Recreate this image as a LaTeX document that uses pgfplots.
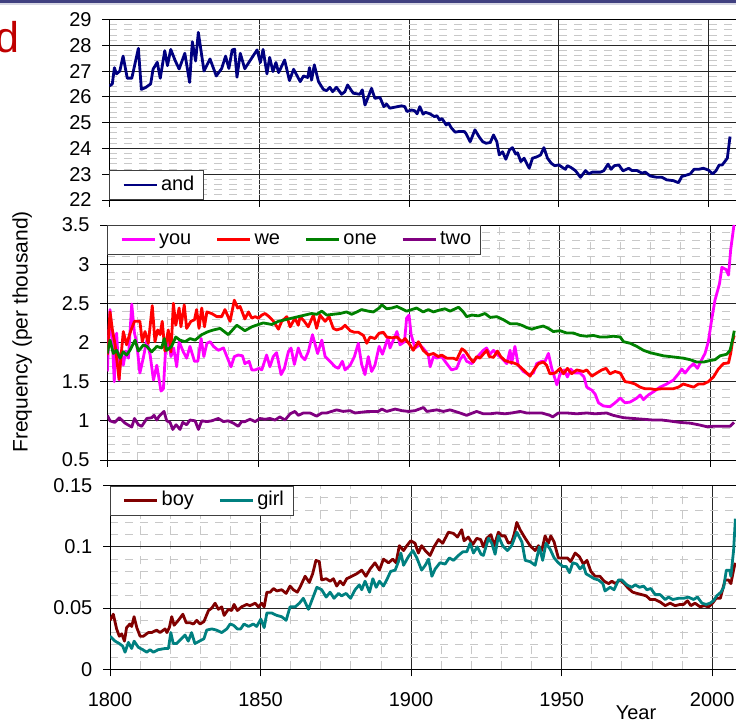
\documentclass[border=0pt]{standalone}
\usepackage{fontspec}
\setmainfont{Liberation Sans}
\usepackage{pgfplots}
\usepackage{pgfplotstable}
\pgfplotsset{compat=1.18}

\definecolor{andblue}{RGB}{0,0,128}
\definecolor{youmag}{RGB}{255,0,255}
\definecolor{wered}{RGB}{255,0,0}
\definecolor{onegreen}{RGB}{0,128,0}
\definecolor{twopurple}{RGB}{128,0,128}
\definecolor{boyred}{RGB}{128,0,0}
\definecolor{girlteal}{RGB}{0,128,128}
\definecolor{minorgray}{RGB}{200,200,200}
\definecolor{bandblue}{RGB}{64,64,128}
\definecolor{bandlight}{RGB}{215,215,228}
\definecolor{titlered}{RGB}{192,0,0}

% ---------- word frequencies (per thousand words) ----------
\pgfplotstableread{
x y
1800 26.42
1801 26.5
1801.7 27.13
1802.4 26.89
1803.5 27.0
1804.6 27.58
1806 26.72
1807.5 26.72
1809.7 27.88
1810.7 26.29
1812.1 26.36
1813.8 26.5
1814.6 27.07
1816 27.34
1817 26.72
1818.5 27.79
1819.4 27.21
1820.5 27.84
1822 27.4
1823.3 27.08
1825.2 27.69
1826.8 26.56
1827.7 28.14
1828.8 27.39
1829.7 28.5
1831.6 27.0
1833.6 27.47
1835.7 26.81
1837.5 27.1
1838.8 27.58
1839.9 27.1
1841 27.82
1841.8 27.85
1842.6 26.76
1843.7 27.69
1845.2 27.09
1847.1 27.43
1849.3 27.82
1850.4 27.33
1851.3 27.84
1852.6 26.89
1853.5 27.53
1854.6 26.98
1855.6 27.33
1856.5 26.94
1858.5 27.43
1860.1 26.63
1861.5 27.07
1863.7 26.59
1864.8 26.81
1866.2 26.75
1866.8 27.13
1867.5 26.65
1868.4 27.24
1869.8 26.59
1871.4 26.29
1872.5 26.24
1873.6 26.37
1874.5 26.2
1875.8 26.37
1877.5 26.1
1878.6 26.2
1879.5 26.46
1881.4 26.14
1883.6 26.1
1884.4 26.27
1885.3 25.68
1886.4 26.0
1887.5 26.33
1888.6 25.94
1890.3 25.98
1891.6 25.62
1892.5 25.72
1893.6 25.56
1895.3 25.6
1897.5 25.65
1898.6 25.62
1899.3 25.43
1900.8 25.49
1901.9 25.46
1902.7 25.34
1903.6 25.62
1904.7 25.33
1905.5 25.4
1907 25.34
1908.5 25.23
1909.3 25.27
1910.2 25.10
1911 25.16
1912.4 24.91
1913.2 24.98
1914.1 24.80
1915.4 24.63
1916.8 24.66
1918.5 24.65
1919 24.58
1920.4 24.26
1922 24.72
1923.5 24.43
1924.6 24.26
1925.7 24.2
1927.1 24.23
1928.2 24.52
1929.3 24.26
1930.1 23.75
1931.2 23.87
1932.3 23.58
1933.5 23.94
1934.5 24.03
1935.6 23.78
1936.2 23.83
1937.3 23.49
1938.4 23.62
1940.1 23.23
1941.2 23.62
1942.8 23.68
1943.9 23.75
1945 24.03
1946.2 23.62
1947.5 23.42
1948.6 23.33
1950 23.36
1951.1 23.27
1952.2 23.19
1952.8 23.33
1953.9 23.27
1955.5 23.14
1957.2 22.88
1958.9 23.14
1960 23.01
1961.1 23.08
1963.9 23.08
1965 23.14
1966.4 23.39
1967.4 23.19
1968.5 23.33
1970 23.36
1971.4 23.13
1973.3 23.23
1974.4 23.14
1976.1 23.14
1977.7 23.04
1978.8 23.08
1980.5 22.93
1982.7 22.88
1984.4 22.88
1986 22.78
1988.2 22.75
1989.9 22.67
1991 22.91
1992.7 22.97
1993.8 23.01
1995.1 23.19
1996.6 23.19
1998.2 23.23
1999.9 23.16
2001.3 23.01
2002.4 23.13
2003.5 23.36
2004.5 23.36
2006.2 23.62
2007.1 24.46
}\tAnd

\pgfplotstableread{
x y
1800 1.63
1800.9 2.42
1801.7 2.01
1802.3 1.50
1803.1 2.12
1803.9 1.52
1804.5 1.87
1805.3 1.71
1806.1 1.89
1807.0 1.80
1808.1 2.49
1809.0 2.12
1809.7 2.01
1810.8 1.61
1811.9 1.80
1813.1 2.03
1814.2 1.84
1815.3 1.52
1816.4 1.71
1817.8 1.38
1818.6 1.41
1819.3 1.90
1820.2 2.07
1821.1 1.82
1822.0 1.93
1823.0 1.69
1823.8 2.01
1825.2 1.88
1826.3 1.80
1827.4 1.95
1828.9 1.76
1830.0 1.76
1831.1 2.05
1832.0 1.82
1833.0 1.99
1834.1 2.01
1835.2 1.95
1836.8 1.90
1838.5 1.93
1841.0 1.69
1842.1 1.82
1843.4 1.84
1844.8 1.83
1845.6 1.73
1847.0 1.76
1847.9 1.65
1849.0 1.65
1850.3 1.67
1851.2 1.65
1852.8 1.84
1853.9 1.69
1855.0 1.82
1856.1 1.87
1857.6 1.59
1858.7 1.67
1860.0 1.88
1860.9 1.93
1862.0 1.72
1863.3 1.93
1864.4 1.82
1865.5 1.78
1866.6 1.88
1868.0 2.10
1869.7 1.86
1871.1 2.03
1872.2 1.82
1873.8 1.76
1875.5 1.69
1876.6 1.67
1877.9 1.76
1878.8 1.65
1880.5 1.71
1881.9 1.82
1883.2 1.99
1884.3 1.72
1885.4 1.59
1886.5 1.82
1887.6 1.63
1888.7 1.71
1890.1 1.95
1891.2 1.85
1893.0 2.06
1893.7 1.93
1894.8 2.03
1896.0 2.14
1897.0 1.97
1898.5 2.01
1899.2 2.31
1900.0 2.35
1900.7 2.10
1902.0 1.93
1903.6 1.97
1905.3 1.90
1906.4 1.84
1907.0 1.69
1908.1 1.82
1909.2 1.80
1910.8 1.82
1912.5 1.73
1914.1 1.65
1915.8 1.67
1916.9 1.78
1918.0 1.84
1919.1 1.76
1920.8 1.73
1921.9 1.78
1923.2 1.84
1924.6 1.90
1925.7 1.93
1926.8 1.85
1928.0 1.90
1929.4 1.84
1930.7 1.80
1932.4 1.73
1933.5 1.90
1934.0 1.73
1935.1 1.95
1936.2 1.71
1937.9 1.63
1939.6 1.59
1941.2 1.61
1942.3 1.73
1944.0 1.76
1945.1 1.76
1946.2 1.86
1947.3 1.67
1949.0 1.46
1950.0 1.59
1951.4 1.65
1952.5 1.56
1953.6 1.66
1955.0 1.61
1956.7 1.61
1958.0 1.56
1958.9 1.43
1960.6 1.39
1961.7 1.34
1962.8 1.23
1964.4 1.19
1966.6 1.18
1968.3 1.23
1970.0 1.29
1971.6 1.23
1973.3 1.24
1975.5 1.29
1976.6 1.33
1977.7 1.27
1979.3 1.33
1981.0 1.37
1983.2 1.43
1985.4 1.47
1987.6 1.52
1989.3 1.60
1990.4 1.66
1991.5 1.61
1992.9 1.68
1994.3 1.73
1995.6 1.67
1997.0 1.78
1998.1 1.86
1999.2 2.01
2000.3 2.29
2001.4 2.54
2002.9 2.75
2003.7 2.96
2005.1 2.93
2005.9 2.86
2006.6 3.18
2007.7 3.50
}\tYou

\pgfplotstableread{
x y
1800 1.84
1800.9 2.39
1801.7 2.16
1802.6 1.97
1803.9 1.53
1804.5 1.80
1805.3 2.14
1806.4 1.97
1807.5 2.12
1809.0 2.27
1810.8 2.27
1811.6 2.01
1812.5 2.14
1813.6 1.99
1814.9 2.47
1815.8 2.01
1816.7 2.16
1817.5 2.10
1818.2 2.27
1819.1 1.89
1820.2 2.16
1821.1 1.88
1821.9 2.50
1822.7 2.22
1823.8 2.44
1824.4 2.20
1825.5 2.48
1826.3 2.18
1827.7 2.27
1828.9 2.29
1829.6 2.42
1830.4 2.18
1831.3 2.44
1832.2 2.20
1833.0 2.39
1834.6 2.37
1836.3 2.33
1837.9 2.33
1839.0 2.42
1840.7 2.27
1842.1 2.54
1843.2 2.44
1844.0 2.46
1845.6 2.30
1846.8 2.39
1847.9 2.31
1849.0 2.33
1850.1 2.31
1851.2 2.35
1852.3 2.37
1853.6 2.33
1855.1 2.27
1856.7 2.17
1857.8 2.27
1859.5 2.33
1860.6 2.20
1862.2 2.31
1863.3 2.22
1863.9 2.33
1865.3 2.27
1866.6 2.20
1868.3 2.35
1869.4 2.18
1870.5 2.35
1872.2 2.27
1873.5 2.33
1874.9 2.18
1876.0 2.16
1877.7 2.18
1878.8 2.22
1880.5 2.15
1881.9 2.13
1883.2 2.13
1884.9 2.09
1886.0 1.99
1887.1 2.07
1888.7 2.05
1890.1 2.12
1891.5 2.13
1892.6 2.07
1894.3 2.06
1896.0 2.07
1897.6 2.01
1898.7 2.05
1900.3 1.97
1901.4 1.90
1903.1 2.01
1904.7 1.90
1906.4 1.84
1908.1 1.86
1909.7 1.82
1910.8 1.84
1912.5 1.80
1914.7 1.80
1915.8 1.78
1917.5 1.92
1918.6 1.89
1920.2 1.80
1921.3 1.75
1922.4 1.82
1923.5 1.80
1924.6 1.85
1925.8 1.90
1926.6 1.82
1928.0 1.81
1929.3 1.89
1930.4 1.82
1931.8 1.77
1933.3 1.75
1934.6 1.74
1935.9 1.72
1936.8 1.69
1938.5 1.63
1940.1 1.57
1941.4 1.65
1942.9 1.73
1944.5 1.75
1945.6 1.71
1946.7 1.60
1948.4 1.61
1950.1 1.67
1951.2 1.60
1952.5 1.67
1953.9 1.60
1955.6 1.65
1957.8 1.63
1958.9 1.65
1960.6 1.57
1962.2 1.61
1963.9 1.65
1965.3 1.67
1966.6 1.60
1968.3 1.63
1970.0 1.61
1971.6 1.50
1973.3 1.49
1974.9 1.47
1976.6 1.43
1978.2 1.41
1979.9 1.41
1981.5 1.40
1983.8 1.41
1985.4 1.41
1987.6 1.41
1989.3 1.43
1990.9 1.47
1992.6 1.45
1994.3 1.43
1995.9 1.47
1997.6 1.47
1999.2 1.50
2000.9 1.56
2002.5 1.66
2004.2 1.73
2005.9 1.74
2006.6 1.86
2007.3 2.03
2007.8 2.09
}\tWe

\pgfplotstableread{
x y
1800 1.86
1800.9 2.03
1802.0 1.86
1803.1 1.90
1804.2 1.80
1805.3 1.88
1806.4 1.84
1807.5 1.90
1809.2 2.03
1810.3 1.89
1812.0 1.97
1813.1 1.95
1814.7 1.88
1816.4 1.95
1818.0 1.93
1818.9 2.05
1819.7 1.90
1821.3 1.95
1822.7 2.07
1824.1 2.03
1825.8 2.01
1827.4 2.05
1829.1 2.03
1831.3 2.10
1833.5 2.14
1835.2 2.16
1837.4 2.18
1840.1 2.10
1842.9 2.22
1844.5 2.18
1845.6 2.15
1847.9 2.20
1850.1 2.23
1851.7 2.25
1854.5 2.23
1856.7 2.27
1858.9 2.29
1861.1 2.31
1863.3 2.33
1865.5 2.35
1867.7 2.37
1869.4 2.36
1871.1 2.40
1872.7 2.35
1874.9 2.36
1877.1 2.37
1879.3 2.39
1881.0 2.36
1882.7 2.39
1884.3 2.42
1886.5 2.40
1888.2 2.39
1890.1 2.44
1891.0 2.48
1892.6 2.43
1894.3 2.44
1896.0 2.46
1897.6 2.43
1899.2 2.40
1900.9 2.42
1902.5 2.44
1904.7 2.39
1906.4 2.42
1908.1 2.39
1909.7 2.41
1911.9 2.43
1913.6 2.40
1916.4 2.45
1918.0 2.39
1919.1 2.33
1920.8 2.35
1923.0 2.34
1925.2 2.37
1926.9 2.32
1929.1 2.33
1931.3 2.29
1933.5 2.24
1935.7 2.24
1937.4 2.22
1939.0 2.19
1940.7 2.17
1942.3 2.19
1944.5 2.21
1946.2 2.18
1947.8 2.14
1950.1 2.15
1952.3 2.12
1954.5 2.12
1956.7 2.09
1958.9 2.08
1961.1 2.09
1963.3 2.07
1965.5 2.07
1967.7 2.08
1970.0 2.07
1971.1 2.01
1973.3 1.99
1975.5 1.95
1977.7 1.90
1979.9 1.87
1982.1 1.85
1984.3 1.83
1986.5 1.82
1988.7 1.81
1990.9 1.80
1993.2 1.78
1995.4 1.75
1997.6 1.75
1999.8 1.77
2001.4 1.78
2003.1 1.83
2005.3 1.85
2006.4 1.90
2007.2 2.03
2007.8 2.15
}\tOne

\pgfplotstableread{
x y
1800 1.07
1800.9 1.00
1802.5 0.98
1804.0 1.04
1805.9 0.97
1808.1 0.92
1809.0 1.03
1810.3 0.95
1811.4 0.93
1813.1 1.03
1814.7 1.04
1815.5 1.07
1816.4 1.01
1817.2 1.06
1818.8 1.12
1819.7 1.00
1820.8 0.98
1821.7 0.89
1822.8 0.95
1824.1 0.89
1825.0 0.98
1826.3 0.95
1827.4 1.01
1829.1 1.00
1830.2 0.89
1831.3 1.00
1833.0 0.99
1834.6 1.00
1836.8 1.03
1838.5 0.99
1840.1 1.00
1841.8 0.97
1843.4 0.93
1844.5 0.99
1845.6 0.99
1847.3 1.02
1849.0 0.99
1850.6 1.03
1852.3 1.02
1853.9 1.03
1855.6 1.01
1857.2 1.05
1858.9 1.01
1860.6 1.09
1862.2 1.12
1863.3 1.07
1865.0 1.10
1867.2 1.10
1869.4 1.06
1871.1 1.10
1872.7 1.10
1876.0 1.14
1878.2 1.12
1880.4 1.13
1882.1 1.10
1884.3 1.11
1886.5 1.12
1889.8 1.12
1891.0 1.15
1892.6 1.12
1895.4 1.15
1897.6 1.13
1899.8 1.12
1902.0 1.13
1904.8 1.17
1905.9 1.12
1909.2 1.14
1911.4 1.12
1913.6 1.14
1916.9 1.10
1919.1 1.07
1922.4 1.12
1924.6 1.09
1926.9 1.09
1929.1 1.10
1931.8 1.09
1934.0 1.10
1936.8 1.12
1939.0 1.10
1941.8 1.10
1944.0 1.10
1946.7 1.07
1947.6 1.05
1949.5 1.10
1952.3 1.10
1955.6 1.09
1958.9 1.10
1961.7 1.09
1965.5 1.10
1967.7 1.07
1971.1 1.04
1974.4 1.03
1977.7 1.02
1981.0 1.01
1983.8 1.01
1986.0 1.00
1989.8 0.98
1993.2 0.97
1995.9 0.95
1998.7 0.925
2000.9 0.93
2003.6 0.93
2006.4 0.93
2007.7 0.98
}\tTwo

\pgfplotstableread{
x y
1800 0.040
1801.1 0.045
1802.2 0.033
1803.1 0.027
1803.9 0.029
1804.8 0.023
1805.5 0.034
1806.6 0.037
1807.2 0.035
1808 0.043
1808.9 0.034
1810 0.027
1811.1 0.027
1812.7 0.030
1813.8 0.030
1815.5 0.032
1816.6 0.030
1818.3 0.033
1818.9 0.030
1819.7 0.034
1820.5 0.043
1821.3 0.036
1822.7 0.040
1824.2 0.045
1825.3 0.038
1826.6 0.038
1827.7 0.037
1828.8 0.040
1829.9 0.037
1831.2 0.039
1832.7 0.048
1833.8 0.050
1834.9 0.054
1836 0.049
1837.1 0.051
1837.9 0.044
1839.3 0.049
1840.4 0.048
1841.2 0.053
1842.3 0.048
1843.7 0.051
1845.4 0.053
1846.5 0.052
1848.2 0.054
1849.3 0.051
1850.4 0.054
1851.2 0.051
1852.1 0.063
1853.2 0.063
1854.3 0.066
1855.4 0.064
1857 0.065
1858.5 0.062
1859.8 0.068
1860.9 0.065
1862.2 0.063
1863.1 0.067
1864.8 0.076
1866.2 0.071
1867.3 0.078
1868.4 0.089
1869.5 0.088
1870.3 0.073
1871.8 0.074
1873.1 0.072
1874.2 0.074
1875.3 0.068
1876.4 0.072
1877.5 0.069
1878.6 0.074
1880.3 0.076
1881.9 0.078
1883.6 0.081
1885 0.076
1886.4 0.082
1888 0.087
1889.5 0.081
1890.8 0.090
1892.5 0.087
1893.9 0.090
1895 0.087
1896.1 0.101
1897.5 0.097
1898.6 0.101
1899.9 0.105
1901.3 0.103
1902.4 0.095
1903.5 0.101
1904.7 0.097
1906.3 0.093
1907.6 0.100
1909.1 0.106
1910.5 0.103
1912.4 0.112
1914.1 0.111
1915.4 0.108
1916.8 0.114
1917.6 0.105
1919 0.108
1920.5 0.102
1921.8 0.107
1923.1 0.106
1924 0.100
1925.1 0.107
1926.5 0.110
1927.6 0.101
1929 0.112
1930.1 0.109
1931.2 0.109
1932.3 0.103
1933.4 0.104
1934.2 0.110
1935.1 0.120
1936.2 0.114
1937.9 0.107
1939.5 0.101
1941.2 0.097
1942.3 0.101
1943.4 0.097
1944.5 0.109
1945.6 0.103
1946.4 0.109
1947.5 0.104
1948.9 0.091
1950.4 0.091
1951.9 0.091
1953 0.088
1954.5 0.095
1955.9 0.092
1957.2 0.086
1958.4 0.089
1959.7 0.080
1961.1 0.076
1962.7 0.076
1964.1 0.072
1965.6 0.070
1966.7 0.072
1967.8 0.070
1969.4 0.073
1970.8 0.070
1972.2 0.066
1973.6 0.063
1975 0.062
1976.6 0.061
1978.1 0.060
1979.4 0.057
1981 0.057
1982.7 0.055
1984.4 0.052
1986 0.054
1987.7 0.052
1989.4 0.053
1990.5 0.053
1991.8 0.056
1992.9 0.052
1994.3 0.054
1996 0.051
1997.3 0.052
1998.8 0.051
2000.1 0.054
2001.3 0.058
2002.7 0.058
2004.3 0.073
2005.4 0.073
2006.2 0.070
2007.1 0.081
2007.6 0.087
}\tBoy

\pgfplotstableread{
x y
1800 0.027
1801.7 0.023
1803.1 0.021
1804.2 0.019
1805 0.014
1806.1 0.022
1807.2 0.017
1808 0.023
1809.4 0.018
1810.9 0.016
1812.2 0.014
1813.3 0.016
1814.4 0.014
1816 0.016
1818.3 0.017
1819.4 0.017
1820.2 0.030
1821 0.021
1822.1 0.021
1823.3 0.024
1824.9 0.028
1826 0.023
1827.1 0.030
1828.2 0.021
1829.7 0.023
1831.2 0.025
1832.1 0.032
1833.8 0.033
1835.4 0.032
1837.1 0.030
1838.8 0.033
1839.9 0.037
1841 0.036
1842.3 0.033
1843.4 0.033
1844.5 0.037
1846 0.035
1847.6 0.037
1848.7 0.035
1850.1 0.041
1851.2 0.034
1852.1 0.046
1853.7 0.046
1855.4 0.044
1857 0.043
1858.5 0.040
1859.8 0.051
1861.5 0.051
1862.9 0.054
1864.2 0.058
1865.9 0.049
1867.3 0.058
1868.7 0.067
1870.3 0.065
1871.8 0.059
1873.1 0.063
1874.4 0.058
1875.9 0.062
1876.9 0.060
1878.4 0.062
1879.9 0.058
1881.4 0.065
1882.8 0.069
1883.6 0.065
1884.7 0.072
1886.2 0.063
1887.3 0.074
1888.4 0.067
1889.5 0.072
1890.8 0.068
1891.9 0.073
1893.2 0.080
1894.7 0.081
1895.8 0.088
1896.6 0.095
1897.5 0.085
1899.1 0.092
1900.6 0.097
1901.9 0.091
1903.5 0.081
1904.7 0.085
1905.8 0.090
1906.9 0.076
1908 0.082
1909.6 0.087
1911.3 0.086
1912.7 0.091
1914.1 0.089
1915.7 0.093
1917.2 0.096
1918.5 0.096
1919.6 0.103
1920.7 0.095
1922 0.100
1923.2 0.094
1924 0.093
1925.7 0.107
1926.8 0.103
1927.9 0.094
1929 0.109
1930.4 0.101
1932 0.097
1933.4 0.101
1935.1 0.112
1936.8 0.104
1937.9 0.089
1939.5 0.088
1941.2 0.085
1942.6 0.100
1943.7 0.089
1944.8 0.103
1946.2 0.098
1947.5 0.091
1948.9 0.087
1950.4 0.084
1951.5 0.084
1952.6 0.079
1953.7 0.087
1955 0.086
1956.1 0.082
1957.2 0.085
1958.1 0.078
1959.5 0.076
1960.8 0.074
1962.2 0.073
1963.7 0.070
1964.4 0.064
1966.1 0.067
1967.4 0.065
1968.9 0.073
1970 0.073
1971.6 0.069
1973.3 0.067
1974.4 0.069
1975.9 0.067
1977.2 0.068
1978.3 0.065
1979.6 0.066
1981.1 0.061
1982.7 0.061
1984.4 0.057
1985.5 0.059
1986.9 0.057
1988.8 0.058
1990.5 0.058
1992.1 0.059
1993.8 0.057
1995.1 0.059
1996.6 0.054
1998 0.053
1999.3 0.054
2000.4 0.056
2001.5 0.060
2002.9 0.063
2003.8 0.067
2004.7 0.081
2005.8 0.081
2006.2 0.076
2007.1 0.097
2007.7 0.123
}\tGirl

\pgfplotsset{
  panel/.style={
    scale only axis,
    anchor=south west,
    xmin=1800, xmax=2010,
    axis line style={black, line width=0.9bp},
    tick style={black, line width=0.9bp},
    major tick length=7bp,
    minor tick length=0bp,
    tick align=outside,
    tick pos=left,
    xtick={1800,1850,1900,1950,2000},
    grid=both,
    major grid style={black!85, line width=0.8bp},
    minor grid style={minorgray, line width=0.9bp, dash pattern=on 8bp off 7bp},
    ticklabel style={font=\fontsize{20bp}{24bp}\selectfont},
    yticklabel style={anchor=east, inner sep=0pt, xshift=-10.5bp},
    xticklabel style={anchor=north, inner sep=0pt, yshift=-16.5bp},
    /pgf/number format/assume math mode=true,
    /pgf/number format/1000 sep={},
    legend columns=-1,
    legend style={
      font=\fontsize{20bp}{24bp}\selectfont,
      draw=black!75, line width=0.8bp, fill=white,
      inner xsep=6bp, inner ysep=3bp,
      nodes={inner xsep=3bp, inner ysep=2bp, text height=14.5bp, text depth=4.5bp},
      /tikz/every even column/.append style={column sep=15bp},
    },
    legend image code/.code={%
      \path (-6.5bp,0bp);
      \draw[#1] (0bp,0bp) -- (33bp,0bp);},
    every axis plot/.append style={line width=2.8bp, line join=round},
  }
}

\begin{document}
\begin{tikzpicture}[x=1bp,y=1bp]
\path[use as bounding box] (0,0) rectangle (736,722);
\fill[bandblue] (0,718.6) rectangle (736,722);
\fill[bandlight] (0,716.8) rectangle (736,718.6);
\node[anchor=base east, inner sep=0pt, text=titlered,
      font=\fontsize{43bp}{50bp}\selectfont] at (20,669) {d};
\node[rotate=90, anchor=base, inner sep=0pt,
      font=\fontsize{21bp}{25bp}\selectfont] at (27.7,390) {Frequency (per thousand)};
\node[anchor=base, inner sep=0pt, font=\fontsize{20bp}{24bp}\selectfont]
      at (636,2.7) {Year};

% top panel: "and"
\begin{axis}[panel, at={(109.3bp,522bp)}, width=629.4bp, height=180.5bp,
  ymin=22, ymax=29, ytick={22,23,24,25,26,27,28,29},
  minor y tick num=4, minor x tick num=0, xminorgrids=false,
  xticklabels={},
  legend style={at={(0,0)}, anchor=south west}]
\addplot[andblue] table[x=x,y=y] {\tAnd};
\addlegendentry{and}
\end{axis}

% middle panel: pronouns and numerals
\begin{axis}[panel, at={(107.3bp,262bp)}, width=633.6bp, height=235bp,
  ymin=0.5, ymax=3.5, ytick={0.5,1,1.5,2,2.5,3,3.5},
  yticklabels={0.5,1,1.5,2,2.5,3,3.5},
  minor y tick num=4, minor x tick num=4,
  xticklabels={},
  legend style={at={(0,1)}, anchor=north west}]
\addplot[youmag] table[x=x,y=y] {\tYou};
\addlegendentry{you}
\addplot[wered] table[x=x,y=y] {\tWe};
\addlegendentry{we}
\addplot[onegreen] table[x=x,y=y] {\tOne};
\addlegendentry{one}
\addplot[twopurple] table[x=x,y=y] {\tTwo};
\addlegendentry{two}
\end{axis}

% bottom panel: "boy" and "girl"
\begin{axis}[panel, at={(110bp,52.7bp)}, width=632.3bp, height=183.6bp,
  ymin=0, ymax=0.15, ytick={0,0.05,0.1,0.15},
  yticklabels={0,0.05,0.1,0.15},
  minor y tick num=4, minor x tick num=4,
  xticklabels={1800,1850,1900,1950,2000},
  legend style={at={(0,1)}, anchor=north west}]
\addplot[boyred] table[x=x,y=y] {\tBoy};
\addlegendentry{boy}
\addplot[girlteal] table[x=x,y=y] {\tGirl};
\addlegendentry{girl}
\end{axis}
\end{tikzpicture}
\end{document}
